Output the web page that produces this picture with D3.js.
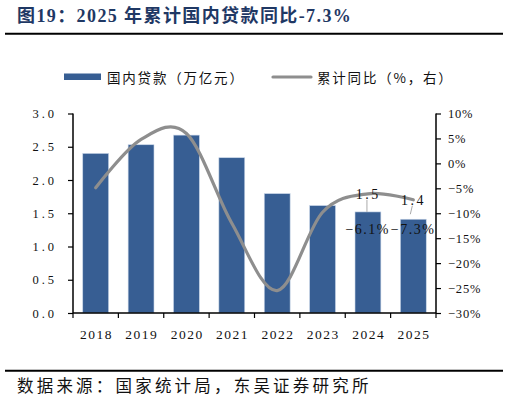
<!DOCTYPE html>
<html><head><meta charset="utf-8">
<script src="https://cdn.jsdelivr.net/npm/d3@7"></script>
<style>
html,body{margin:0;padding:0;background:#fff;}
svg{display:block;}
</style></head>
<body>
<svg id="c" width="509" height="401"></svg>
<script>
// ---- data ----
const years = ["2018","2019","2020","2021","2022","2023","2024","2025"];
const loans = [2.40, 2.53, 2.675, 2.335, 1.795, 1.615, 1.52, 1.41];      // 万亿元
const yoy = [-4.9, 4.8, 6.0, -12.0, -25.5, -9.8, -6.1, -7.3];          // %
const leftTicks = [0, 0.5, 1.0, 1.5, 2.0, 2.5, 3.0];
const rightTicks = [-30, -25, -20, -15, -10, -5, 0, 5, 10];
const labelYears = ["2024", "2025"];
const barLabels = ["1.5", "1.4"];
const pctLabels = ["\u22126.1%", "\u22127.3%"];
const titleText = "图19：2025 年累计国内贷款同比-7.3%";
const legendNames = ["国内贷款（万亿元）", "累计同比（%，右）"];
const sourceText = "数据来源：国家统计局，东吴证券研究所";

// ---- layout ----
const L = 73, R = 436, T = 113.5, B = 313;
const barColor = "#375E93", lineColor = "#8E8E8E";
const serif = "'Liberation Serif','Times New Roman',serif";
const cjk = "'Liberation Serif','Noto Sans CJK SC',sans-serif";
const pctLabelDy = [17, 10];
const leaderEndDy = [0, -5];

const svg = d3.select("#c");

const x = d3.scaleBand().domain(years).range([L, R]).paddingInner(0.43).paddingOuter(0.215);
const yL = d3.scaleLinear().domain([0, 3]).range([B, T]);
const yR = d3.scaleLinear().domain([-30, 10]).range([B, T]);

// title
svg.append("text").attr("x", 17).attr("y", 22)
  .attr("font-family", cjk).attr("font-weight", "bold").attr("font-size", 18)
  .attr("letter-spacing", 1.4).attr("fill", "#1F3864").text(titleText);
svg.append("line").attr("x1", 5).attr("x2", 503).attr("y1", 33.7).attr("y2", 33.7)
  .attr("stroke", "#000").attr("stroke-width", 2);

// legend
svg.append("rect").attr("x", 64).attr("y", 73.5).attr("width", 37).attr("height", 6.5).attr("fill", barColor);
svg.append("text").attr("x", 107).attr("y", 82.5).attr("font-family", "'Noto Sans CJK SC',sans-serif")
  .attr("font-size", 13.5).attr("letter-spacing", 1.8).attr("fill", "#111").text(legendNames[0]);
svg.append("line").attr("x1", 273).attr("x2", 311).attr("y1", 77).attr("y2", 77)
  .attr("stroke", lineColor).attr("stroke-width", 3.2).attr("stroke-linecap", "round");
svg.append("text").attr("x", 317).attr("y", 82.5).attr("font-family", "'Noto Sans CJK SC',sans-serif")
  .attr("font-size", 13.5).attr("letter-spacing", 1.8).attr("fill", "#111").text(legendNames[1]);

// bars
svg.append("g").selectAll("rect").data(years).join("rect")
  .attr("x", d => x(d)).attr("width", x.bandwidth())
  .attr("y", (d, i) => yL(loans[i])).attr("height", (d, i) => B - yL(loans[i]))
  .attr("fill", barColor).attr("stroke", "#C9D6E8").attr("stroke-width", 0.6);

// axes
const axL = svg.append("g").attr("transform", `translate(${L},0)`)
  .call(d3.axisLeft(yL).tickValues(leftTicks).tickSize(5).tickPadding(14).tickFormat(d3.format(".1f")));
const axR = svg.append("g").attr("transform", `translate(${R},0)`)
  .call(d3.axisRight(yR).tickValues(rightTicks).tickSize(5).tickPadding(7).tickFormat(d => d3.format("d")(d) + "%"));
const axB = svg.append("g").attr("transform", `translate(0,${B})`)
  .call(d3.axisBottom(x).tickSize(0).tickPadding(16));
// tick marks at band boundaries on x axis
const bounds = years.map(d => x(d) - x.step() * x.paddingInner() / 2).concat([R]);
svg.append("g").selectAll("line").data(bounds).join("line")
  .attr("x1", d => d).attr("x2", d => d).attr("y1", B).attr("y2", B + 5)
  .attr("stroke", "#000").attr("stroke-width", 1.2);

[axL, axR, axB].forEach(a => {
  a.select(".domain").attr("stroke", "#000").attr("stroke-width", 1.5);
  a.selectAll(".tick line").attr("stroke", "#000").attr("stroke-width", 1.2);
  a.selectAll("text").attr("font-family", serif).attr("fill", "#111");
});
axL.select(".domain").attr("d", `M0,${B}V${T}`);
axR.select(".domain").attr("d", `M0,${B}V${T}`);
axB.select(".domain").attr("d", `M${L},0H${R}`);
axL.selectAll("text").attr("font-size", 12.5).attr("letter-spacing", 3).attr("dx", 3);
axR.selectAll("text").attr("font-size", 12.5).attr("letter-spacing", 0.8).text(function(){ return this.textContent.replace("-", "\u2212"); });
axB.selectAll("text").attr("font-size", 13.5).attr("letter-spacing", 1.5).attr("dx", 0.75);

// line
const line = d3.line().x((d, i) => x(years[i]) + x.bandwidth() / 2).y(d => yR(d)).curve(d3.curveCardinal.tension(0));
svg.append("path").datum(yoy).attr("d", line).attr("fill", "none")
  .attr("stroke", lineColor).attr("stroke-width", 3.2).attr("stroke-linecap", "round");

// data labels
labelYears.forEach((yr, k) => {
  const i = years.indexOf(yr);
  const cx = x(yr) + x.bandwidth() / 2;
  const ly = yR(yoy[i]);
  const top = yL(loans[i]);
  svg.append("line").attr("x1", cx - 1).attr("x2", cx - 1 - (k ? 2 : 0))
    .attr("y1", ly + 6).attr("y2", top + leaderEndDy[k])
    .attr("stroke", "#AAAAAA").attr("stroke-width", 1);
  svg.append("text").attr("x", cx - 1).attr("y", ly + 5).attr("text-anchor", "middle")
    .attr("font-family", serif).attr("font-size", 14).attr("letter-spacing", 2.5).attr("dx", 1.25)
    .attr("fill", "#111").text(barLabels[k]);
  svg.append("text").attr("x", cx - 1).attr("y", top + pctLabelDy[k] + 5).attr("text-anchor", "middle")
    .attr("font-family", serif).attr("font-size", 14).attr("letter-spacing", 1.5).attr("dx", 0.75)
    .attr("fill", "#111").text(pctLabels[k]);
});

// source
svg.append("line").attr("x1", 5).attr("x2", 503).attr("y1", 370.8).attr("y2", 370.8)
  .attr("stroke", "#000").attr("stroke-width", 2);
svg.append("text").attr("x", 17).attr("y", 392)
  .attr("font-family", "'Noto Sans CJK SC',sans-serif").attr("font-size", 16.5).attr("letter-spacing", 3.2)
  .attr("fill", "#111").text(sourceText);
</script>
</body></html>
